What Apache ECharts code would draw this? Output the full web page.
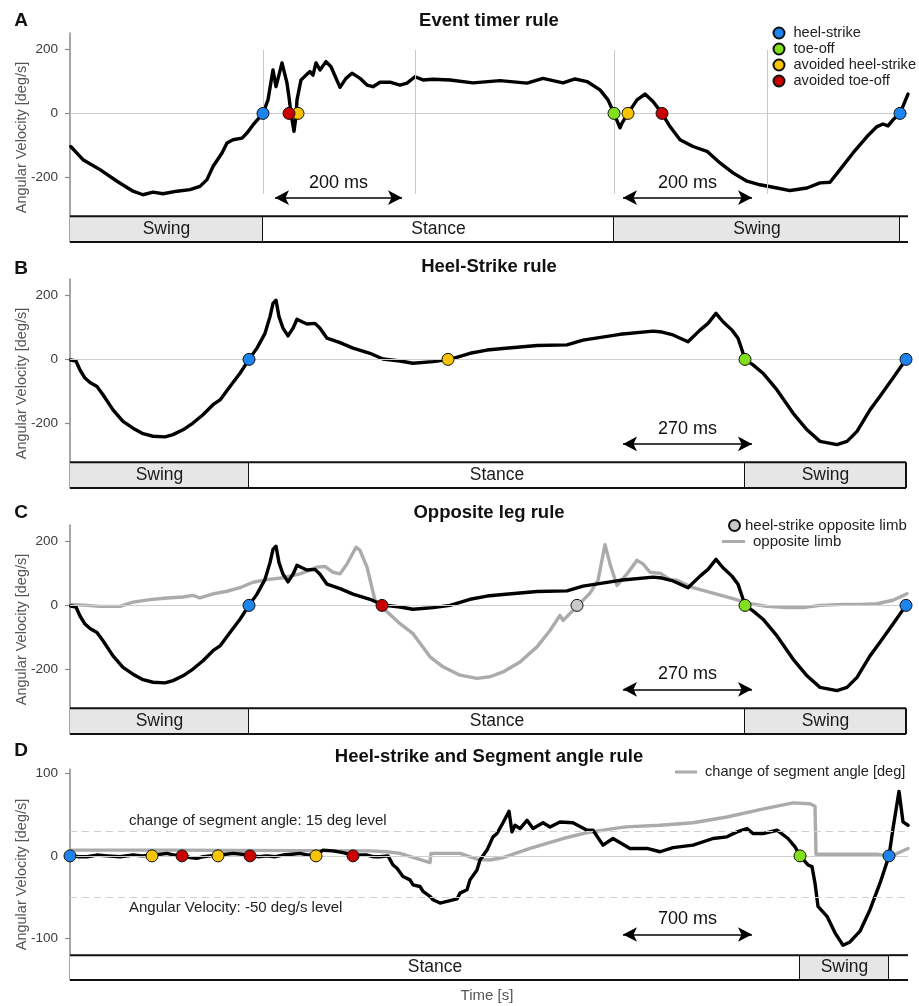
<!DOCTYPE html>
<html><head><meta charset="utf-8">
<script src="https://cdn.jsdelivr.net/npm/echarts@6/dist/echarts.min.js"></script>
<style>html,body{margin:0;padding:0;background:#fff}#c{width:919px;height:1006px}</style>
</head><body><div id="c"></div>
<script>
const FONT = '"Liberation Sans", Arial, Helvetica, sans-serif';

// ---------- Panel A : Event timer rule ----------
const aVelocity = [[0.7,-103],[13,-144],[30,-175],[47,-211],[63,-242],[73,-253],[83,-245],[93,-250],[107,-242],[120,-237],[130,-227],[137,-206],[143,-165],[152,-123],[157,-92],[163,-82],[172,-77],[177,-61],[183,-36],[193,0],[198,42],[203,135],[206,83],[212,157],[217,94],[219,50],[221,0],[224,-56],[226,-10],[227,42],[231,104],[236,119],[240,130],[243,119],[246,157],[250,135],[256,161],[261,145],[270,81],[276,109],[282,125],[290,109],[297,88],[303,83],[310,97],[320,97],[330,88],[337,94],[345,114],[353,104],[363,106],[380,104],[403,95],[430,102],[457,94],[473,109],[493,95],[505,107],[517,99],[530,73],[538,42],[544,0],[550,-45],[552,-30],[558,0],[567,42],[575,60],[583,37],[592,0],[600,-41],[610,-82],[623,-103],[637,-118],[650,-154],[663,-185],[677,-211],[690,-222],[707,-232],[720,-240],[737,-232],[750,-216],[760,-214],[770,-175],[783,-123],[797,-72],[807,-41],[813,-33],[818,-39],[823,-20],[830,0],[838,60]];
const aHeelStrike = [193, 830];
const aToeOff = [544];
const aAvoidedHeelStrike = [228, 558];
const aAvoidedToeOff = [219, 592];
const aTimerLines = [193, 345, 544, 697];
const aPhases = [[0,193,'Swing'],[193,544,'Stance'],[544,830,'Swing'],[830,838,'']];
const aArrows = [[205,332,'200 ms'],[553,682,'200 ms']];

// ---------- Panels B & C : same limb signal ----------
const bVelocity = [[0.7,-2],[6,-5],[10,-33],[15,-58],[20,-72],[27,-84],[33,-110],[43,-157],[53,-193],[63,-214],[73,-231],[83,-239],[95,-241],[103,-234],[113,-219],[123,-198],[133,-172],[143,-141],[150,-126],[160,-84],[170,-43],[179,0],[187,35],[195,81],[200,133],[203,174],[206,184],[209,133],[213,97],[218,73],[223,97],[227,125],[232,117],[237,110],[245,112],[250,97],[257,66],[270,52],[283,35],[300,19],[313,1],[330,-5],[343,-12],[363,-7],[380,0],[400,19],[417,29],[433,34],[467,43],[497,45],[513,60],[550,78],[583,88],[592,85],[603,76],[618,55],[630,91],[638,112],[646,143],[653,117],[662,91],[668,66],[672,29],[675,0],[683,-17],[693,-43],[707,-95],[723,-167],[737,-219],[750,-255],[767,-265],[777,-255],[787,-224],[800,-157],[810,-115],[823,-58],[836,0]];
const bHeelStrike = [179, 836];
const bToeOff = [675];
const bAvoidedHeelStrike = [378];
const bPhases = [[0,179,'Swing'],[179,675,'Stance'],[675,836,'Swing']];
const bArrows = [[553,682,'270 ms']];

const cOpposite = [[0.7,3],[17,0],[30,-3],[50,-3],[63,10],[80,18],[97,23],[113,26],[123,31],[130,23],[143,36],[157,44],[170,55],[183,72],[197,80],[213,86],[230,98],[247,119],[255,121],[263,103],[270,98],[277,129],[286,181],[290,171],[297,119],[305,16],[313,-8],[330,-57],[343,-88],[360,-160],[373,-191],[390,-217],[407,-227],[420,-222],[433,-207],[450,-176],[467,-129],[480,-78],[490,-31],[493,-47],[508,0],[520,38],[528,78],[535,189],[540,129],[547,62],[557,98],[567,140],[573,129],[580,103],[591,99],[600,80],[607,78],[623,55],[643,38],[663,21],[680,5],[697,-3],[717,-7],[733,-7],[750,0],[773,3],[790,3],[807,5],[823,16],[837,36]];
const cHeelStrike = [179, 836];
const cToeOff = [675];
const cAvoidedToeOff = [312];
const cOppositeHeelStrike = [507];
const cPhases = [[0,179,'Swing'],[179,675,'Stance'],[675,836,'Swing']];
const cArrows = [[553,682,'270 ms']];

// ---------- Panel D : Heel-strike and Segment angle rule ----------
const dVelocity = [[0,1],[8,-1],[17,-1],[27,1],[37,0],[50,-1],[63,1],[72,0],[82,1],[90,2],[97,3],[104,1],[112,0],[120,-2],[127,-3],[133,-1],[140,0],[148,1],[156,2],[163,3],[172,2],[180,1],[188,-1],[197,0],[205,-1],[213,1],[222,2],[230,3],[238,1],[246,1],[253,7],[263,6],[273,4],[283,1],[290,1],[297,1],[303,-1],[310,-1],[318,0],[323,-11],[327,-15],[333,-25],[340,-29],[343,-35],[350,-37],[353,-43],[360,-49],[363,-53],[370,-57],[372,-58],[380,-54],[387,-52],[390,-45],[397,-41],[400,-29],[407,-17],[410,-5],[417,7],[423,23],[427,27],[433,40],[439,54],[442,29],[445,37],[450,33],[457,43],[463,33],[473,40],[480,35],[490,41],[503,40],[517,31],[523,31],[533,13],[543,21],[560,9],[577,9],[590,5],[603,10],[623,13],[643,21],[657,23],[667,29],[677,33],[683,27],[693,27],[707,31],[718,21],[725,11],[730,0],[738,-11],[742,-13],[745,-33],[748,-61],[757,-73],[765,-93],[773,-108],[780,-104],[790,-91],[800,-65],[810,-33],[819,0],[823,33],[829,78],[833,41],[838,37]];
const dSegmentAngle = [[0,7],[100,7],[300,6],[317,5],[330,3],[360,-8],[361,3],[390,3],[407,-4],[420,-5],[433,-2],[460,9],[493,21],[517,28],[543,33],[556,35],[590,37],[623,40],[657,47],[690,56],[723,64],[740,63],[745,60],[746,2],[807,2],[820,-1],[838,9]];
const dHeelStrike = [0, 819];
const dToeOff = [730];
const dAvoidedHeelStrike = [82, 148, 246];
const dAvoidedToeOff = [112, 180, 283];
const dLevels = [30, -50];
const dLevelLabels = ['change of segment angle: 15 deg level', 'Angular Velocity: -50 deg/s level'];
const dPhases = [[0,730,'Stance'],[730,819,'Swing'],[819,838,'']];
const dArrows = [[553,682,'700 ms']];

const abcTicks = [-200, 0, 200];
const dTicks = [-100, 0, 100];

// ---------- styling / layout ----------
const markerColors = {
  'heel-strike': '#1b84ee',
  'toe-off': '#80e01e',
  'avoided heel-strike': '#f7c400',
  'avoided toe-off': '#c90000',
  'heel-strike opposite limb': '#c9c9c9'
};

const panels = [
  {letter:'A', title:'Event timer rule', top:33, height:209, ymin:-400, ymax:250, phaseTop:-320, ticks:abcTicks,
   titleY:20.5, letterY:21, arrowY:-262,
   lines:[{name:'velocity A', data:aVelocity, color:'#000', z:4}],
   markers:[['heel-strike',aHeelStrike],['toe-off',aToeOff],['avoided heel-strike',aAvoidedHeelStrike],['avoided toe-off',aAvoidedToeOff]],
   phases:aPhases, arrows:aArrows, vlines:aTimerLines, vTop:197, vBottom:-250},
  {letter:'B', title:'Heel-Strike rule', top:279, height:209, ymin:-400, ymax:250, phaseTop:-320, ticks:abcTicks,
   titleY:266.5, letterY:268.5, arrowY:-263,
   lines:[{name:'velocity B', data:bVelocity, color:'#000', z:4}],
   markers:[['heel-strike',bHeelStrike],['toe-off',bToeOff],['avoided heel-strike',bAvoidedHeelStrike]],
   phases:bPhases, arrows:bArrows, vlines:[]},
  {letter:'C', title:'Opposite leg rule', top:525, height:209, ymin:-400, ymax:250, phaseTop:-320, ticks:abcTicks,
   titleY:512.5, letterY:513, arrowY:-261,
   lines:[{name:'opposite limb', data:cOpposite, color:'#ababab', z:3},{name:'velocity C', data:bVelocity, color:'#000', z:4}],
   markers:[['heel-strike',cHeelStrike],['toe-off',cToeOff],['avoided toe-off',cAvoidedToeOff],['heel-strike opposite limb',cOppositeHeelStrike]],
   phases:cPhases, arrows:cArrows, vlines:[]},
  {letter:'D', title:'Heel-strike and Segment angle rule', top:769, height:211, ymin:-150, ymax:105, phaseTop:-120, ticks:dTicks,
   titleY:757, letterY:751, arrowY:-95,
   lines:[{name:'change of segment angle [deg]', data:dSegmentAngle, color:'#ababab', z:3},{name:'velocity D', data:dVelocity, color:'#000', z:4}],
   markers:[['heel-strike',dHeelStrike],['toe-off',dToeOff],['avoided heel-strike',dAvoidedHeelStrike],['avoided toe-off',dAvoidedToeOff]],
   phases:dPhases, arrows:dArrows, vlines:[], levels:true}
];

const grids=[], xAxes=[], yAxes=[], series=[], graphics=[];
panels.forEach((p, i) => {
  grids.push({left:70, right:11, top:p.top, height:p.height, containLabel:false, outerBoundsMode:'none'});
  xAxes.push({type:'value', gridIndex:i, min:0, max:838, show:false});
  yAxes.push({type:'value', gridIndex:i, min:p.ymin, max:p.ymax,
    axisLine:{show:true, onZero:false, lineStyle:{color:'#8a8a8a', width:1.5}},
    axisTick:{show:true, customValues:p.ticks, length:5, lineStyle:{color:'#8a8a8a', width:1.2}},
    axisLabel:{customValues:p.ticks, color:'#3a3a3a', fontSize:13.5, fontFamily:FONT, margin:12},
    splitLine:{show:false},
    name:'Angular Velocity [deg/s]', nameLocation:'middle', nameGap:41, nameMoveOverlap:false,
    nameTextStyle:{color:'#555', fontSize:14.5, fontFamily:FONT}});

  // phase bar
  series.push({type:'custom', xAxisIndex:i, yAxisIndex:i, silent:true, z:2, clip:false,
    data:p.phases.map(ph => [ph[0], ph[1]]),
    renderItem:(params, api) => {
      const ph = p.phases[params.dataIndex];
      const a = api.coord([api.value(0), p.phaseTop]);
      const b = api.coord([api.value(1), p.ymin]);
      const children = [
        {type:'rect', shape:{x:a[0], y:a[1], width:b[0]-a[0], height:b[1]-a[1]}, style:{fill: ph[2]==='Swing' ? '#e6e6e6' : '#ffffff'}},
        {type:'line', shape:{x1:a[0], y1:a[1], x2:b[0], y2:a[1]}, style:{stroke:'#111', lineWidth:2}},
        {type:'line', shape:{x1:a[0], y1:b[1], x2:b[0], y2:b[1]}, style:{stroke:'#111', lineWidth:2}}
      ];
      if (ph[2]) {
        children.push({type:'line', shape:{x1:b[0], y1:a[1], x2:b[0], y2:b[1]}, style:{stroke:'#111', lineWidth:2}});
        children.push({type:'text', style:{text:ph[2], x:(a[0]+b[0])/2, y:(a[1]+b[1])/2, align:'center', verticalAlign:'middle', font:'17.5px '+FONT, fill:'#1a1a1a'}});
      }
      return {type:'group', children};
    }});

  // reference lines (zero line, timer lines, levels)
  const ref = [{yAxis:0, lineStyle:{color:'#cfcfcf', width:1, type:'solid'}}];
  p.vlines.forEach(t => ref.push([{coord:[t, p.vTop]}, {coord:[t, p.vBottom]}]));
  if (p.levels) {
    dLevels.forEach((lv, k) => ref.push({yAxis:lv, lineStyle:{color:'#cfcfcf', width:1, type:[7,5]},
      label:{show:true, formatter:dLevelLabels[k], position: k===0 ? 'insideStartTop' : 'insideStartBottom',
        distance:3, padding:[0,0,0,56], color:'#222', fontSize:15, fontFamily:FONT}}));
  }
  series.push({type:'line', name:'ref'+i, xAxisIndex:i, yAxisIndex:i, data:[], silent:true, z:1,
    markLine:{silent:true, symbol:'none', animation:false, label:{show:false},
      lineStyle:{color:'#c8c8c8', width:1, type:'solid'}, data:ref}});

  // signal lines
  p.lines.forEach(l => series.push({type:'line', name:l.name, xAxisIndex:i, yAxisIndex:i, data:l.data,
    showSymbol:false, symbol:'none', silent:true, z:l.z, clip:false,
    lineStyle:{color:l.color, width:3.4, join:'round', cap:'round'}, itemStyle:{color:l.color}}));

  // event markers
  p.markers.forEach(m => series.push({type:'scatter', name:m[0], xAxisIndex:i, yAxisIndex:i,
    data:m[1].map(t => [t, 0]), symbol:'circle', symbolSize:12, z:6, clip:false, silent:true,
    itemStyle:{color:markerColors[m[0]], borderColor:'#111', borderWidth:1, opacity:1}}));

  // duration arrows
  series.push({type:'line', name:'arrows'+i, xAxisIndex:i, yAxisIndex:i, data:[], silent:true, z:5,
    markLine:{silent:true, animation:false, symbol:['arrow','arrow'], symbolSize:[11,14],
      lineStyle:{color:'#000', width:1.6, type:'solid'},
      label:{show:true, position:'insideMiddleTop', distance:6, color:'#111', fontSize:18, fontFamily:FONT},
      data:p.arrows.map(a => [{coord:[a[0], p.arrowY], label:{formatter:a[2]}}, {coord:[a[1], p.arrowY]}])}});

  graphics.push({type:'text', x:489, y:p.titleY, silent:true,
    style:{text:p.title, align:'center', verticalAlign:'middle', font:'bold 18.5px '+FONT, fill:'#111'}});
  graphics.push({type:'text', x:21, y:p.letterY, silent:true,
    style:{text:p.letter, align:'center', verticalAlign:'middle', font:'bold 19px '+FONT, fill:'#111'}});
});
graphics.push({type:'text', x:487, y:996, silent:true,
  style:{text:'Time [s]', align:'center', verticalAlign:'middle', font:'15px '+FONT, fill:'#555'}});

const legendText = {fontSize:14.6, color:'#222', fontFamily:FONT};
const option = {
  animation:false,
  backgroundColor:'#fff',
  grid:grids, xAxis:xAxes, yAxis:yAxes, series,
  legend:[
    {left:772.5, top:25.5, padding:0, orient:'vertical', icon:'circle', itemWidth:11, itemHeight:11, itemGap:1, selectedMode:false,
     data:['heel-strike','toe-off','avoided heel-strike','avoided toe-off'], textStyle:Object.assign({padding:[0,0,0,4]}, legendText)},
    {left:728, top:518, padding:0, orient:'vertical', icon:'circle', itemWidth:11, itemHeight:11, selectedMode:false,
     data:['heel-strike opposite limb'], textStyle:{fontSize:15, color:'#222', fontFamily:FONT}},
    {left:722, top:534, padding:0, orient:'vertical', icon:'rect', itemWidth:23, itemHeight:3, selectedMode:false,
     data:['opposite limb'], textStyle:{padding:[0,0,0,3], fontSize:15, color:'#222', fontFamily:FONT}},
    {left:675, top:764.5, padding:0, orient:'vertical', icon:'rect', itemWidth:22, itemHeight:3, selectedMode:false,
     data:['change of segment angle [deg]'], textStyle:{padding:[0,0,0,3], fontSize:14.6, color:'#222', fontFamily:FONT}}
  ],
  graphic:graphics
};
const chart = echarts.init(document.getElementById('c'));
chart.setOption(option);
</script></body></html>
